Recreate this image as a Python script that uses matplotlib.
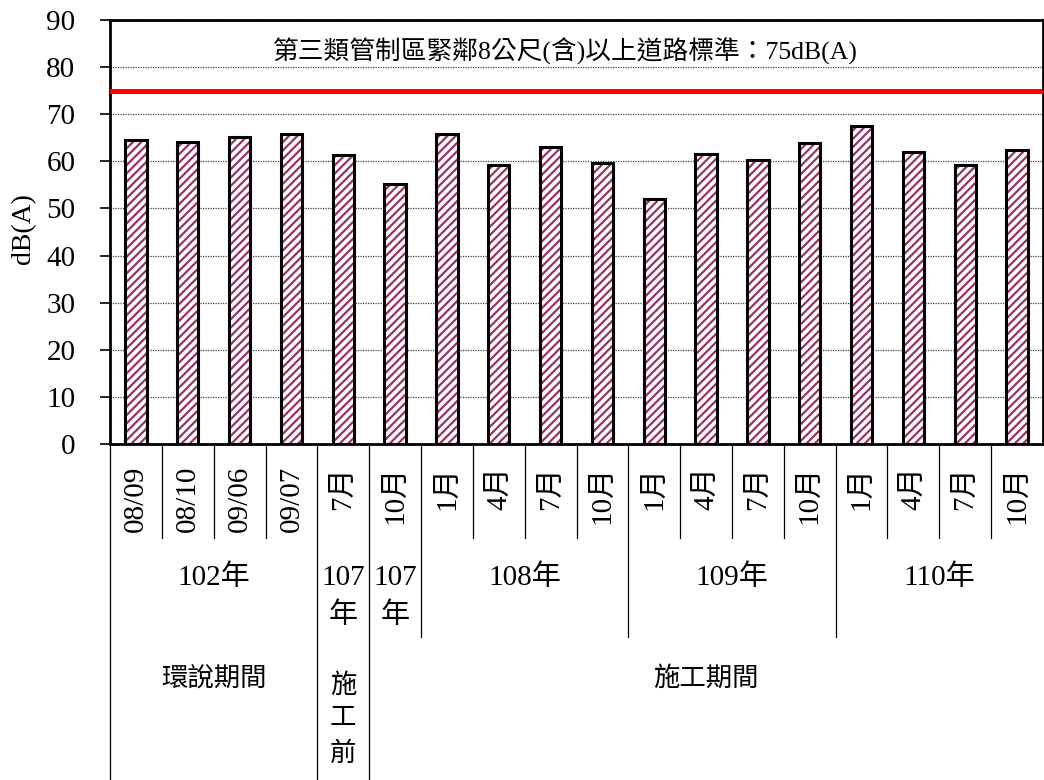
import matplotlib
matplotlib.use("Agg")
import matplotlib.pyplot as plt
import matplotlib.transforms as mtransforms
import numpy as np

plt.rcParams['font.family'] = ['Liberation Serif', 'Noto Sans CJK TC']
plt.rcParams['hatch.linewidth'] = 1.6

# data
months = ['08/09', '08/10', '09/06', '09/07', '7月', '10月',
          '1月', '4月', '7月', '10月',
          '1月', '4月', '7月', '10月',
          '1月', '4月', '7月', '10月']
values = [64.5, 64.0, 65.2, 65.9, 61.4, 55.2,
          65.8, 59.3, 63.1, 59.6,
          52.0, 61.6, 60.3, 63.9,
          67.5, 61.9, 59.2, 62.3]
year_labels = ['102年', '107\n年', '107\n年', '108年', '109年', '110年']
year_counts = [4, 1, 1, 4, 4, 4]
period_labels = ['環說期間', '施\n工\n前', '施工期間']
period_counts = [4, 1, 13]
standard = 75
standard_text = '第三類管制區緊鄰8公尺(含)以上道路標準：75dB(A)'

fig = plt.figure(figsize=(10.44, 7.8), dpi=100)
ax = fig.add_axes([110 / 1044, 336 / 780, 933 / 1044, 424 / 780])

x = np.arange(len(values))
ax.bar(x, values, width=0.41, color='white', edgecolor='#993366',
       hatch='////', linewidth=0, zorder=3)
ax.bar(x, values, width=0.41, fill=False, edgecolor='black',
       linewidth=2.2, zorder=4)

ax.axhline(standard, color='#ff0000', linewidth=3.6, zorder=5)
ax.text(0.488, 0.925, standard_text, transform=ax.transAxes,
        ha='center', va='center', fontsize=18.5)

ax.set_xlim(-0.5, len(values) - 0.5)
ax.set_ylim(0, 90)
ax.set_yticks(np.arange(0, 91, 10))
ax.tick_params(axis='y', direction='out', length=7, width=1.2,
               labelsize=21, pad=18)
ax.set_xticks([])
ax.yaxis.grid(True, linestyle=(0, (1, 1)), color='#444444', linewidth=0.9,
              zorder=0)
ax.set_axisbelow(True)
for s in ax.spines.values():
    s.set_linewidth(2)

fig.text(24 / 1044, 1 - 229 / 780, 'dB(A)', rotation=90, ha='center',
         va='center', fontsize=20)

# label table under the axis
trans = mtransforms.blended_transform_factory(ax.transData, ax.transAxes)
row1, row2, row3 = -0.222, -0.455, -0.792

for i, m in enumerate(months):
    ax.text(i, -0.052, m, rotation=90, ha='center', va='top', fontsize=21,
            transform=trans)

year_edges = np.cumsum([0] + year_counts)
for lab, a, b in zip(year_labels, year_edges[:-1], year_edges[1:]):
    c = (a + b - 1) / 2
    if '\n' in lab:
        ax.text(c, -0.362, lab, ha='center', va='center', fontsize=21,
                linespacing=1.55, transform=trans)
    else:
        ax.text(c, -0.316, lab, ha='center', va='center', fontsize=21,
                transform=trans)

period_edges = np.cumsum([0] + period_counts)
for lab, a, b in zip(period_labels, period_edges[:-1], period_edges[1:]):
    c = (a + b - 1) / 2
    if '\n' in lab:
        ax.text(c, -0.65, lab, ha='center', va='center', fontsize=19,
                linespacing=1.6, transform=trans)
    else:
        ax.text(c, -0.552, lab, ha='center', va='center', fontsize=19,
                transform=trans)

for k in range(len(values)):
    if k in period_edges:
        depth = row3
    elif k in year_edges:
        depth = row2
    else:
        depth = row1
    ax.plot([k - 0.5, k - 0.5], [0, depth], color='black', linewidth=0.9,
            transform=trans, clip_on=False)

fig.savefig('out.png', dpi=100)
